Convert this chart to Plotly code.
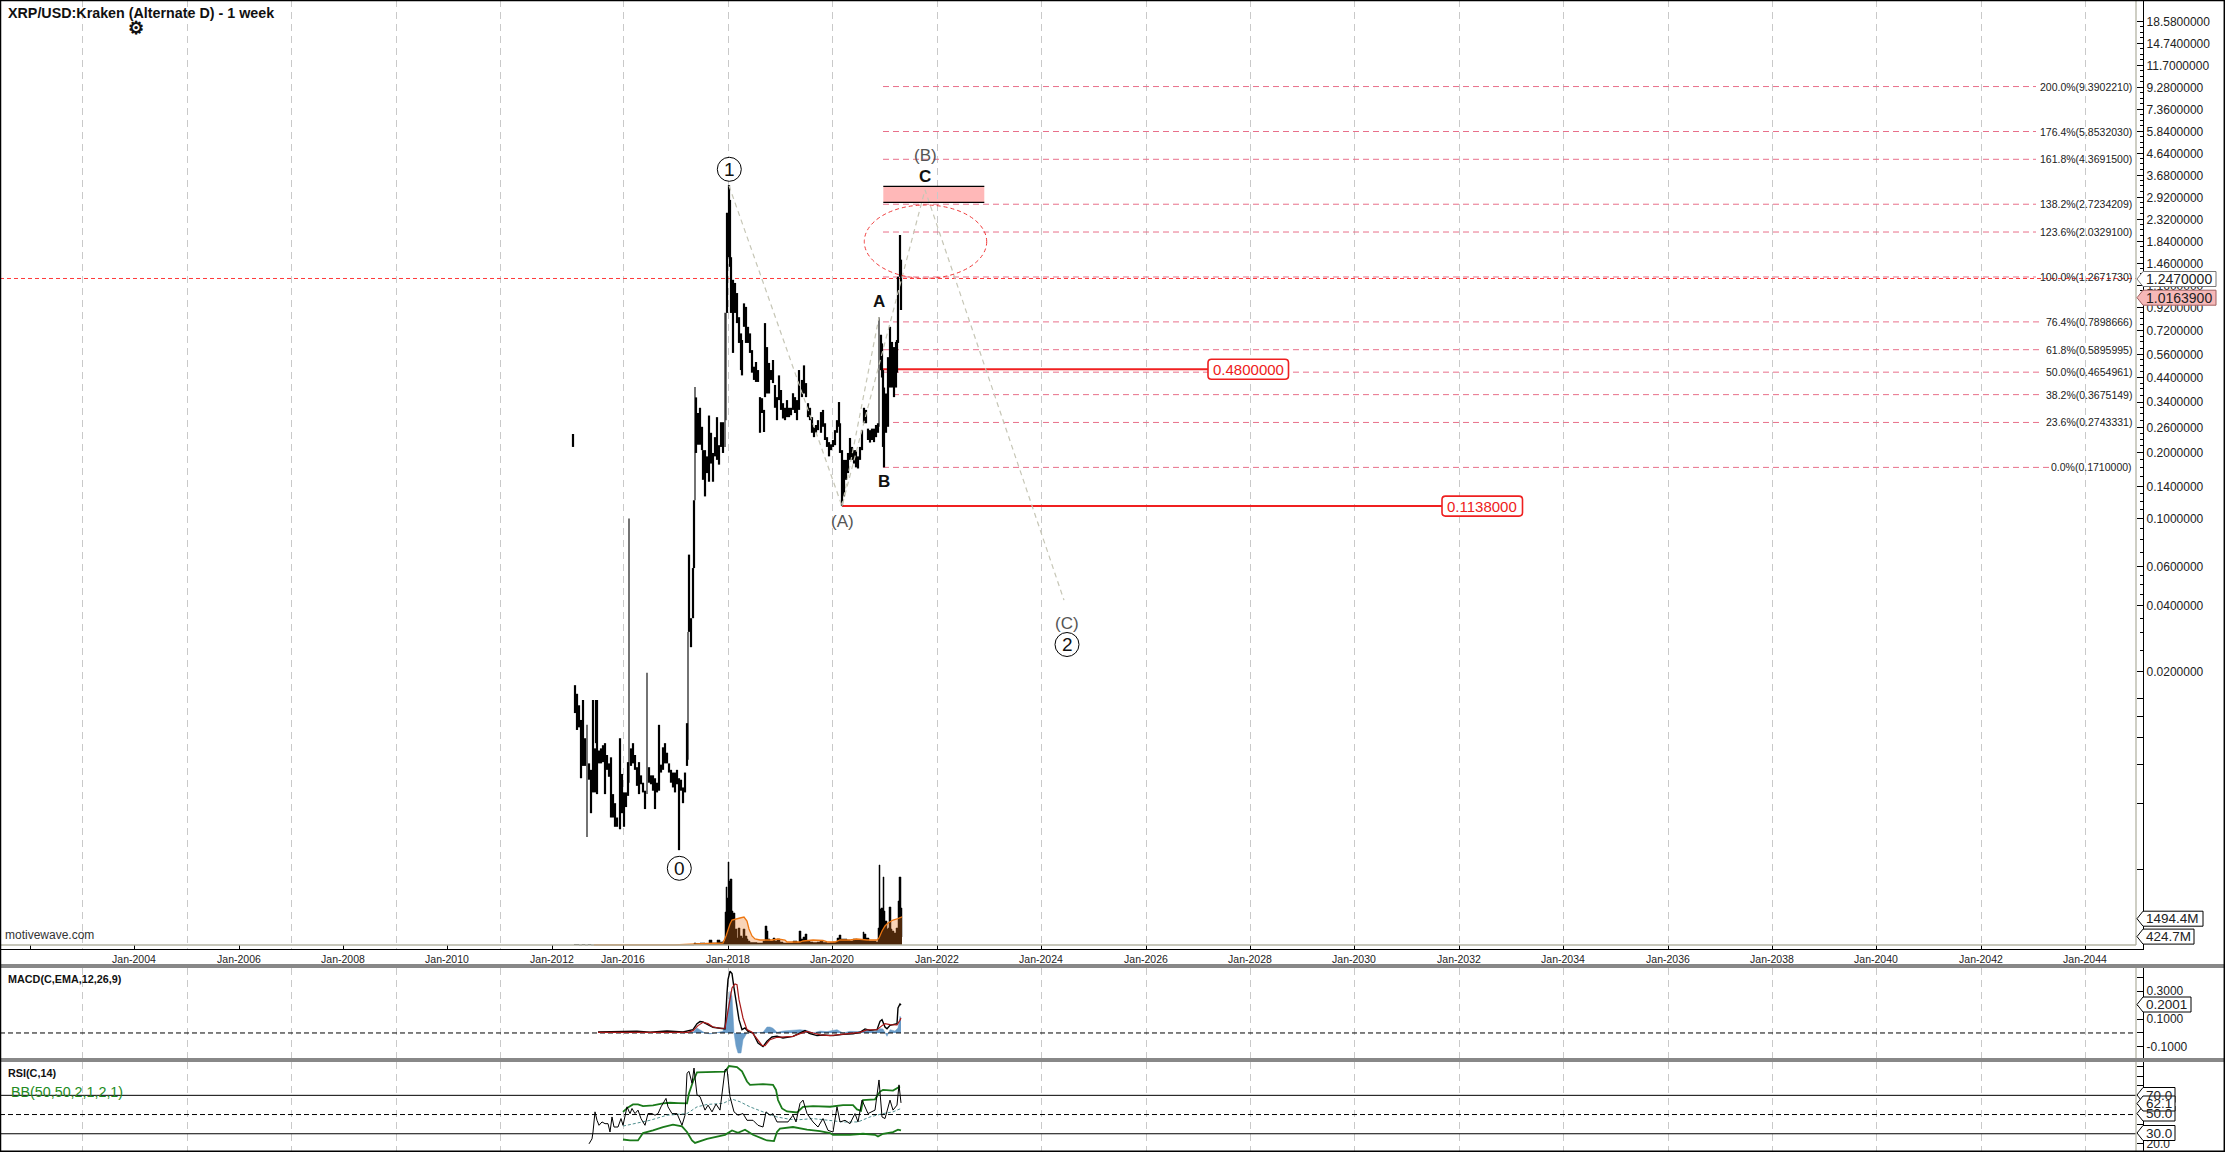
import math
import plotly.graph_objects as go

W, H = 2225, 1152
FONT = "Liberation Sans"

# ---------- price bars (bar number, 1 bar = 1 week, high, low) ----------
bar_no = [-1,1,3,5,7,9,11,13,15,17,19,21,22,23,25,27,29,31,33,35,37,39,41,43,46,48,50,52,54,55,57,59,61,63,65,67,69,71,73,75,77,79,81,83,85,87,89,91,93,95,97,99,101,103,105,107,109,111,113,114,115,117,119,120,121,
 122,124,126,128,129,131,133,135,137,139,141,143,145,147,149,151,152,153,155,156,157,159,161,163,165,167,168,170,172,174,176,178,180,182,184,186,188,190,191,193,195,197,199,201,203,205,207,209,211,213,215,217,219,221,223,225,
 228,230,232,234,236,238,240,242,244,247,249,251,253,255,257,259,261,263,265,266,268,270,272,274,276,278,280,282,284,286,288,290,292,294,296,298,300,302,304,305,307,308,309,310,312,314,316,318,320,322,323,324,326,327]
bar_high = [.243,.0173,.0158,.0140,.0120,.0148,.0099,.0114,.0076,.0071,.0148,.0089,.0148,.0148,.0087,.0089,.0092,.0094,.0083,.0076,.0081,.0055,.0050,.0043,.0099,.0068,.0056,.0056,.0077,.1000,.0089,.0094,.0083,.0073,.0077,.0067,.0062,.0057,.0197,.0073,.0067,.0067,.0065,.0062,.0114,.0075,.0090,.0094,.0085,.0076,.0071,.0069,.0069,.0071,.0065,.0064,.0059,.0069,.0116,.0303,.0683,.0350,.0593,.121,.398,
 .357,.303,.320,.262,.205,.205,.192,.295,.246,.199,.235,.290,.216,.275,.275,.87,.868,2.49,3.33,2.85,1.56,1.23,1.19,1.07,.83,.70,.653,.96,.925,.75,.70,.587,.493,.518,.476,.358,.354,.313,.78,.606,.513,.476,.529,.407,.358,.45,.386,.336,.32,.347,.32,.32,.373,.358,.347,.476,
 .429,.50,.415,.336,.32,.29,.262,.267,.281,.306,.313,.272,.235,.223,.218,.228,.253,.281,.34,.272,.205,.185,.185,.199,.233,.212,.205,.205,.192,.212,.253,.32,.313,.257,.253,.257,.257,.267,.272,.83,.69,.63,.476,.396,.372,.545,.75,.64,.606,.64,.653,1.27,1.97,1.52]
bar_low = [.212,.0129,.0108,.0111,.0065,.0074,.0074,.0035,.0064,.0045,.0056,.0056,.0094,.0055,.0076,.0076,.0077,.0055,.0071,.0066,.0043,.0043,.0039,.0039,.0038,.0045,.0039,.0048,.0054,.0062,.0074,.0076,.0071,.0060,.0055,.0061,.0056,.0047,.0055,.0062,.0061,.0057,.0047,.0056,.0057,.0069,.0071,.0076,.0076,.0069,.0062,.0059,.0056,.0061,.00305,.0057,.0050,.0056,.0074,.0079,.0303,.0258,.0350,.0593,.121,
 .199,.217,.217,.205,.150,.126,.161,.147,.178,.147,.192,.185,.176,.212,.199,.212,.281,.868,1.56,1.41,.868,.570,.868,.780,.633,.476,.450,.75,.633,.633,.570,.463,.429,.42,.42,.246,.303,.248,.358,.372,.372,.429,.415,.32,.281,.347,.313,.286,.281,.29,.29,.296,.313,.303,.281,.313,
 .358,.372,.358,.29,.281,.246,.235,.246,.253,.246,.262,.228,.212,.192,.205,.212,.216,.246,.262,.199,.1138,.126,.15,.161,.185,.185,.178,.171,.169,.185,.205,.272,.272,.228,.222,.228,.223,.235,.246,.262,.476,.44,.212,.171,.246,.262,.396,.396,.358,.396,.463,.633,1.27,.895]

# ---------- volume (millions) ----------
vol_bar = [0,5,8,11,14,17,120,122,126,131,135,138,143,146,149,151,152,153,154,155,156,158,159,161,163,164,166,168,169,171,173,174,176,179,183,186,189,191,193,194,196,199,201,203,206,209,213,216,219,223,225,227,229,231,233,236,239,243,246,249,253,256,259,263,265,267,269,273,276,279,283,286,289,290,292,295,298,302,303,304,305,306,307,308,309,310,311,313,314,315,317,318,320,322,324,325,327,328]
vol_val = [25,0,25,0,25,0,106,80,106,53,265,106,265,159,212,1749,3074,2491,4400,3392,3498,1802,1696,848,371,901,477,371,848,477,318,212,133,133,106,106,212,1007,742,318,212,371,212,318,159,106,106,106,212,133,742,318,424,583,212,159,133,159,212,133,106,133,159,371,530,318,318,265,212,318,265,265,689,583,371,212,212,159,159,901,4240,1908,1961,1961,3604,1802,1272,848,901,2014,848,742,636,901,2332,3604,1961,425]
vol_ma_bar = [20,100,133,149,152,154,156,158,161,166,170,173,175,178,181,186,191,198,204,211,213,219,226,229,239,249,254,261,266,276,283,293,303,305,308,311,314,319,323,328]
vol_ma_val = [5,5,80,106,477,848,1113,1325,1378,1431,1484,1272,848,477,318,265,265,265,318,265,159,159,159,212,265,239,159,159,265,265,318,265,265,371,742,1007,1166,1325,1378,1494]

# ---------- MACD ----------
macd_bar = [24,43,63,76,93,109,114,119,123,126,129,134,139,146,151,153,154,156,158,160,163,165,168,171,174,179,184,189,193,198,203,209,219,226,231,236,243,249,259,269,279,286,291,296,303,306,308,311,313,316,319,323,324,326,327]
macd_val = [.007,.01,.012,.005,.014,.007,.014,.024,.067,.082,.079,.06,.041,.034,.029,.288,.384,.444,.427,.324,.192,.096,.024,.036,.012,0,-.072,-.098,-.06,-.029,-.024,-.036,-.024,0,.017,-.005,-.019,-.014,-.019,-.01,-.005,.005,.029,.019,.024,.084,.096,.043,.031,.055,.06,.067,.18,.209,.2001]
signal_bar = [24,114,119,124,129,134,139,146,151,154,158,161,163,165,169,173,178,183,188,191,196,203,209,219,226,233,239,246,256,266,276,286,293,303,308,311,316,323,326,327]
signal_val = [.005,.005,.017,.053,.077,.067,.043,.034,.034,.168,.324,.353,.348,.24,.108,.024,.005,-.043,-.089,-.091,-.048,-.031,-.029,-.024,-.005,.012,0,-.014,-.019,-.012,-.005,.005,.022,.024,.053,.067,.06,.058,.091,.108]
hist_bar = [109,119,123,126,131,136,143,149,153,154,156,158,160,162,164,167,169,173,183,189,193,196,199,203,209,216,226,233,239,246,253,263,269,276,286,293,301,306,309,313,316,321,324,326,327]
hist_val = [0,.005,.036,.024,0,-.007,.005,.012,.12,.192,.3,.264,0,-.096,-.144,-.144,-.048,0,0,.005,.043,.043,.034,.005,.014,.017,.024,.017,0,.014,.01,.024,0,.012,.01,.024,.01,.031,.029,-.024,.024,.014,.036,.12,.108]

# ---------- RSI and Bollinger bands ----------
rsi_bar = [15,18,19,21,23,25,28,31,34,36,38,40,44,47,49,51,53,56,58,61,64,67,71,74,78,81,84,87,89,92,94,98,103,108,111,113,115,118,120,123,126,131,134,138,142,146,151,153,156,160,164,169,173,179,184,189,192,196,199,203,209,214,219,222,226,229,233,239,244,249,254,259,263,266,271,276,281,284,288,291,294,301,305,308,311,316,319,323,325,327]
rsi_val = [19.5,24.7,31.8,52.8,44,38.8,42.3,40.5,40.5,31.8,47.5,37,37,45.8,38.8,49.3,58,51,56.3,51,54.6,45.8,38.8,51,51,49.3,51,58,61.6,66.8,58,51,51,38.8,49.3,93,95,82.6,98.4,70.4,68.6,54.6,59.8,52.8,60.9,54.6,96.7,97.4,68.6,52.8,49.3,51,44,44,38.8,37,52.8,49.3,51,42.3,42.3,42.3,49.3,42.3,61.6,65,51,42.3,37,45.8,33.5,31.8,58,42.3,44,40.5,51,42.3,65,58,51,54.6,86,47.5,45.8,65,54.6,59.8,80.9,62.1]
bb_up_bar = [49,54,59,64,69,79,89,96,104,113,115,119,123,133,151,155,163,168,173,176,189,199,202,204,208,213,223,229,239,256,269,279,283,287,289,301,306,309,319,326]
bb_up_val = [52.8,57.4,60.5,60.5,58.8,59.5,61.6,62.3,61.9,61.6,72.1,84.4,93.9,94.2,94.6,100.5,99.5,94.9,84.4,80.9,81.6,80.9,75.6,65.1,56.3,53.2,52.1,58.1,58.8,58.1,59.8,59.8,55.3,53.9,65.1,65.8,73.9,75.6,74.9,79.1]
bb_lo_bar = [49,56,64,69,79,89,99,108,113,118,121,133,151,158,164,171,179,193,200,203,206,219,233,246,256,259,276,289,301,304,309,319,324,327]
bb_lo_val = [24,23,23,30.7,33.5,37,39.5,37.7,31.8,23,20.5,24.7,28.9,33.5,31,34.2,28.9,23,22.3,31.8,35.3,37,34.2,32.8,30.7,28.9,28.9,30,28.9,27.2,30,31.8,34.2,33.5]
bb_mid_bar = [49,59,76,93,113,123,133,149,158,166,176,189,203,216,226,239,256,269,284,296,309,319,327]
bb_mid_val = [38,40.5,44,49.3,51,58,60.5,61.6,66.1,63.3,58,52.8,47.5,45,44.7,45.8,44,42.3,42.3,47.5,51,52.8,56.3]

# ---------- Fibonacci and wave levels ----------
fib_pct = ["200.0","176.4","161.8","138.2","123.6","100.0","76.4","61.8","50.0","38.2","23.6","0.0"]
fib_level = [9.3902210,5.8532030,4.3691500,2.7234209,2.0329100,1.2671730,0.7898666,0.5895995,0.4654961,0.3675149,0.2743331,0.1710000]
fib_end_bar = [1462,1462,1462,1462,1462,1462,1467,1467,1467,1467,1467,1475]
fib_start_bar = 309
support_level = [0.48, 0.1138]
support_start = [306, 268]
support_end = [634, 868]
last_price = 1.2470
wave_main_bar = [155, 268, 351, 490]
wave_main_price = [3.31, 0.1138, 3.17, 0.0423]
wave_sub_bar = [268, 305]
wave_sub_price = [0.1138, 0.83]

# ---------- axis labels ----------
x_tick_bar = [-544,-440,-335,-231,-127,-22,49,154,258,363,467,572,676,780,885,989,1094,1198,1302,1407,1511]
x_tick_text = ["","Jan-2004","Jan-2006","Jan-2008","Jan-2010","Jan-2012","Jan-2016","Jan-2018","Jan-2020","Jan-2022","Jan-2024","Jan-2026","Jan-2028","Jan-2030","Jan-2032","Jan-2034","Jan-2036","Jan-2038","Jan-2040","Jan-2042","Jan-2044"]
grid_bar = [-492,-387,-283,-178,-74,49,154,258,363,467,572,676,780,885,989,1094,1198,1302,1407,1511]
y_labeled = [18.58,14.74,11.70,9.28,7.36,5.84,4.64,3.68,2.92,2.32,1.84,1.46,1.16,.92,.72,.56,.44,.34,.26,.20,.14,.10,.06,.04,.02]
y_unlabeled = [.015,.0125,.01,.0075,.005,.0025]

# ---------- geometry helpers ----------
def px(x): return x / W
def py(y): return 1 - y / H
X_L, X_R = -574, 1569   # bar numbers at the pixel edges of the plot
GRID_END = 1562
GRID = "#c9c9c9"; GRAY = "#b4b4a4"; SEP = "#888888"; TXT = "#222222"
LOG_TOP, LOG_BOT = 1.3681, -2.9672
MAIN_BOTTOM = 949
def price_to_py(v): return (LOG_TOP - math.log10(v)) / (LOG_TOP - LOG_BOT) * MAIN_BOTTOM

minor_vals = []
for a, b in zip(y_labeled[:-1], y_labeled[1:]):
    minor_vals += [b + (a - b) * k / 4 for k in (1, 2, 3)]

# wide-range bars are single thin spikes; the others form the denser band
band_x, band_y, spike_x, spike_y = [], [], [], []
for b, h, l in zip(bar_no, bar_high, bar_low):
    if h / l > 3:
        spike_x += [b, b, None]; spike_y += [l, h, None]
    else:
        band_x += [b, b, None]; band_y += [l, h, None]

fib_x, fib_y = [], []
for lv, e in zip(fib_level, fib_end_bar):
    fib_x += [fib_start_bar, e, None]; fib_y += [lv, lv, None]
sup_x, sup_y = [], []
for lv, s, e in zip(support_level, support_start, support_end):
    sup_x += [s, e, None]; sup_y += [lv, lv, None]

fig = go.Figure()
def add(ax, **kw):
    xa, ya = ax
    kw.setdefault("hoverinfo", "skip")
    kw.setdefault("showlegend", False)
    fig.add_trace(go.Scatter(xaxis=xa, yaxis=ya, **kw))

# main pane
add(("x","y4"), x=vol_bar, y=vol_val, mode="lines", line=dict(color="black", width=0.5, shape="hv"), fill="tozeroy", fillcolor="black")
add(("x","y4"), x=vol_ma_bar, y=vol_ma_val, mode="lines", line=dict(color="#ee7711", width=1.3), fill="tozeroy", fillcolor="rgba(235,120,30,0.32)")
add(("x","y"), x=fib_x, y=fib_y, mode="lines", line=dict(color="#e8708a", width=1, dash="6px,4px"))
add(("x","y"), x=[X_L, GRID_END], y=[last_price, last_price], mode="lines", line=dict(color="#ff3a3a", width=1, dash="4px,3px"))
add(("x","y"), x=sup_x, y=sup_y, mode="lines", line=dict(color="#f02020", width=2))
add(("x","y"), x=band_x, y=band_y, mode="lines", line=dict(color="black", width=2.2))
add(("x","y"), x=spike_x, y=spike_y, mode="lines", line=dict(color="black", width=1.1))
add(("x","y"), x=wave_main_bar, y=wave_main_price, mode="lines", line=dict(color="#c6c6b6", width=1.2, dash="5px,4px"))
add(("x","y"), x=wave_sub_bar, y=wave_sub_price, mode="lines", line=dict(color="#c6c6b6", width=1.2, dash="5px,4px"))
# MACD
add(("x2","y2"), x=hist_bar, y=hist_val, mode="lines", line=dict(color="#6a9cc8", width=0.5), fill="tozeroy", fillcolor="#6a9cc8")
add(("x2","y2"), x=[X_L, GRID_END], y=[0, 0], mode="lines", line=dict(color="black", width=1, dash="5px,3px"))
add(("x2","y2"), x=macd_bar, y=macd_val, mode="lines", line=dict(color="black", width=1.4))
add(("x2","y2"), x=signal_bar, y=signal_val, mode="lines", line=dict(color="#a81818", width=1.2))
# RSI
for lv, d in [(70, "solid"), (50, "5px,3px"), (30, "solid")]:
    add(("x3","y3"), x=[X_L, GRID_END], y=[lv, lv], mode="lines", line=dict(color="black", width=1, dash=d))
add(("x3","y3"), x=bb_up_bar, y=bb_up_val, mode="lines", line=dict(color="#1a7a1a", width=1.8))
add(("x3","y3"), x=bb_lo_bar, y=bb_lo_val, mode="lines", line=dict(color="#1a7a1a", width=1.8))
add(("x3","y3"), x=bb_mid_bar, y=bb_mid_val, mode="lines", line=dict(color="#4f8f8f", width=1, dash="3px,2px"))
add(("x3","y3"), x=rsi_bar, y=rsi_val, mode="lines", line=dict(color="black", width=1))

shapes = []
ann = []
def line(x0, y0, x1, y1, color, width=1, layer="above", dash="solid"):
    shapes.append(dict(type="line", xref="paper", yref="paper", x0=px(x0), y0=py(y0), x1=px(x1), y1=py(y1),
                       line=dict(color=color, width=width, dash=dash), layer=layer))
def text(x, y, s, size=12, color=TXT, bold=False, anchor="left"):
    ann.append(dict(xref="paper", yref="paper", x=px(x), y=py(y), text=f"<b>{s}</b>" if bold else s, showarrow=False,
                    xanchor=anchor, yanchor="middle", font=dict(family=FONT, size=size, color=color), borderpad=0))
def circle(cx, cy, r, s):
    shapes.append(dict(type="circle", xref="paper", yref="paper", x0=px(cx-r), x1=px(cx+r), y0=py(cy+r), y1=py(cy-r),
                       line=dict(color="black", width=1), fillcolor="white"))
    text(cx, cy, s, size=19, color="#111111", anchor="center")
def tag(y, s, x1, fill="white", edge="black", size=13.5):
    h = 7.5
    path = (f"M {px(2137)} {py(y)} L {px(2143)} {py(y-h)} L {px(x1)} {py(y-h)} L {px(x1)} {py(y+h)} "
            f"L {px(2143)} {py(y+h)} Z")
    shapes.append(dict(type="path", xref="paper", yref="paper", path=path, line=dict(color=edge, width=1), fillcolor=fill))
    text(2145, y, s, size=size, color="#222222")
def rounded_box(x0, x1, yc, h, r, edge):
    y0, y1 = yc - h / 2, yc + h / 2
    path = (f"M {px(x0+r)} {py(y0)} L {px(x1-r)} {py(y0)} Q {px(x1)} {py(y0)} {px(x1)} {py(y0+r)} "
            f"L {px(x1)} {py(y1-r)} Q {px(x1)} {py(y1)} {px(x1-r)} {py(y1)} L {px(x0+r)} {py(y1)} "
            f"Q {px(x0)} {py(y1)} {px(x0)} {py(y1-r)} L {px(x0)} {py(y0+r)} Q {px(x0)} {py(y0)} {px(x0+r)} {py(y0)} Z")
    shapes.append(dict(type="path", xref="paper", yref="paper", path=path, line=dict(color=edge, width=1.6), fillcolor="white"))

# frame and separators
line(0, 945, 2136, 945, GRAY, 1.3)
for a, b in [(0, 945), (968, 1058), (1062, 1151)]:
    line(2136, a, 2136, b, GRAY, 1.3)
for yy in (966, 1060):
    line(0, yy, W, yy, SEP, 4)
line(0.5, 0, 0.5, H, "black", 1.5)
line(0, 0.5, W, 0.5, "black", 1.5)
line(W-0.7, 0, W-0.7, H, "black", 1.5)
line(0, H-0.7, W, H-0.7, "black", 1.5)
# target zone and ellipse
shapes.append(dict(type="rect", xref="paper", yref="paper", x0=px(883.3), x1=px(984.3), y0=py(202.3), y1=py(186.3),
                   fillcolor="#ffb8b8", line=dict(width=0), layer="below"))
line(883.3, 186.3, 984.3, 186.3, "black", 1.2)
line(883.3, 202.3, 984.3, 202.3, "black", 1.2)
shapes.append(dict(type="circle", xref="paper", yref="paper", x0=px(864.3), x1=px(986.7), y0=py(278.3), y1=py(205),
                   line=dict(color="#f03a3a", width=1, dash="4px,3px"), fillcolor="rgba(0,0,0,0)"))
# wave labels
circle(729.3, 169.3, 12, "1")
circle(679.3, 868.3, 12, "0")
circle(1067, 644.5, 12, "2")
text(1067, 623, "(C)", 17, "#555555", anchor="center")
text(842, 521, "(A)", 17, "#555555", anchor="center")
text(925.4, 155, "(B)", 17, "#555555", anchor="center")
text(879.3, 301, "A", 17, "#111111", True, "center")
text(883.6, 481.7, "B", 17, "#111111", True, "center")
text(925.4, 176, "C", 17, "#111111", True, "center")
# heading texts
text(7, 13, "XRP/USD:Kraken (Alternate D) - 1 week", 14.3, "#111111", True)
text(136, 27.5, "⚙", 18, "#111111", True, "center")
text(4, 935, "motivewave.com", 12, "#333333")
text(7, 979, "MACD(C,EMA,12,26,9)", 10.8, "#111111", True)
text(7, 1073, "RSI(C,14)", 10.8, "#111111", True)
text(10, 1092, "BB(50,50,2,1,2,1)", 14.3, "#228b22")
# fib labels from their levels
for p, lv in zip(fib_pct, fib_level):
    ann.append(dict(xref="paper", yref="y", x=px(2133), y=math.log10(lv), text=f"{p}%({lv:.7f})", showarrow=False,
                    xanchor="right", yanchor="middle", font=dict(family=FONT, size=10.5, color=TXT), borderpad=0))
# support value boxes
for lv, xb in zip(support_level, (1208, 1442)):
    rounded_box(xb, xb + 80.5, price_to_py(lv), 20, 3.5, "#ee2020")
    ann.append(dict(xref="paper", yref="y", x=px(xb + 40), y=math.log10(lv), text=f"{lv:.7f}", showarrow=False, xanchor="center",
                    yanchor="middle", font=dict(family=FONT, size=15, color="#ee2020"), borderpad=0))
# value tags
tag(279, "1.2470000", 2216, "white", "#777777", 14)
tag(297.7, "1.0163900", 2216, "#f6b8b8", "#a06060", 14)
tag(918.7, "1494.4M", 2203)
tag(936.6, "424.7M", 2194)
tag(1004.5, "0.2001", 2191)
tag(1095, "70.0", 2175)
tag(1113.5, "50.0", 2175)
tag(1133, "30.0", 2175)
tag(1103.5, "62.1", 2175)

minor_grid = dict(tickmode="array", tickvals=grid_bar, showgrid=True, gridcolor=GRID, griddash="7px,5px", gridwidth=1, ticks="")
xdom = [0, 2143 / W]
ticklabel = dict(family=FONT, size=12, color=TXT)
axis_y = dict(side="right", showline=True, linecolor="black", linewidth=1.3, showgrid=False, zeroline=False,
              ticks="inside", tickcolor="black", tickfont=ticklabel)

fig.update_layout(
    width=W, height=H, margin=dict(l=0, r=0, t=0, b=0), paper_bgcolor="white", plot_bgcolor="white",
    showlegend=False, shapes=shapes, annotations=ann,
    xaxis=dict(domain=xdom, range=[X_L, X_R], anchor="y", tickmode="array", tickvals=x_tick_bar, ticktext=x_tick_text,
               ticks="inside", ticklen=4, tickcolor="black", showgrid=False, zeroline=False, showline=True,
               linecolor="black", linewidth=1.3, tickfont=dict(family=FONT, size=10.5, color=TXT), minor=minor_grid),
    xaxis2=dict(domain=xdom, range=[X_L, X_R], anchor="y2", showticklabels=False, ticks="", showgrid=False, zeroline=False, minor=minor_grid),
    xaxis3=dict(domain=xdom, range=[X_L, X_R], anchor="y3", showticklabels=False, ticks="", showgrid=False, zeroline=False, minor=minor_grid),
    yaxis=dict(domain=[py(MAIN_BOTTOM), 1], type="log", range=[LOG_BOT, LOG_TOP], anchor="x", tickmode="array",
               tickvals=y_labeled + y_unlabeled,
               ticktext=[f"{v:.7f}" for v in y_labeled] + [""] * len(y_unlabeled),
               ticklen=6, minor=dict(tickmode="array", tickvals=minor_vals, ticks="inside", ticklen=3, tickcolor="black", showgrid=False),
               **axis_y),
    yaxis2=dict(domain=[py(1058), py(968)], range=[-.18, .4676], anchor="x2", tickmode="array",
                tickvals=[-.1, 0, .1, .2, .3, .4], ticktext=["-0.1000", "", "0.1000", "", "0.3000", ""], ticklen=6, **axis_y),
    yaxis3=dict(domain=[0, py(1062)], range=[11, 104.7], anchor="x3", tickmode="array",
                tickvals=[20, 30, 40, 50, 60, 70, 80, 90, 100], ticktext=["20.0", "", "", "", "", "", "", "", ""], ticklen=6, **axis_y),
    yaxis4=dict(domain=[py(MAIN_BOTTOM), 1], overlaying="y", side="left", range=[-212, 50085], visible=False, anchor="x"),
)
fig.write_html("out.html", config={"displayModeBar": False},
               post_script="document.body.style.margin='0';document.documentElement.style.overflow='hidden';")
